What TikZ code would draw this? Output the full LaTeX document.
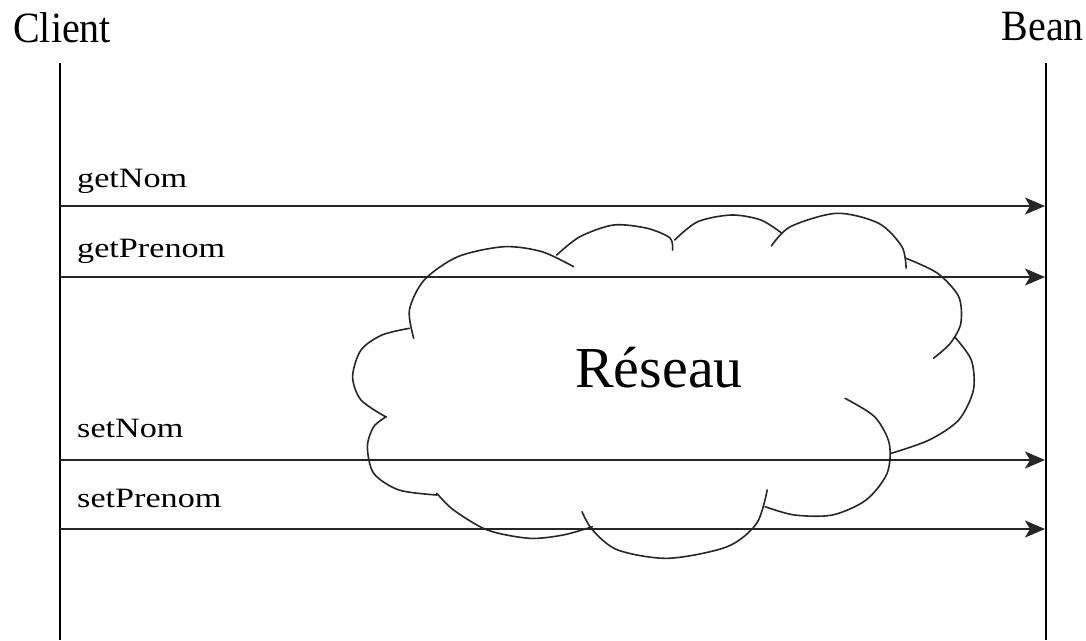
\documentclass[tikz,border=0pt]{standalone}
\usepackage{fontspec}
\setmainfont{Liberation Serif}
\usetikzlibrary{arrows.meta}
\tikzset{
  lifeline/.style={line width=2pt, black},
  msg/.style={line width=1.8pt, black!85, -{Stealth[length=20pt, width=17pt, inset=5pt]}},
  msglabel/.style={anchor=base west, inner sep=0pt, xscale=1.22, transform shape, font=\fontsize{28}{32}\selectfont},
  actor/.style={inner sep=0pt, yscale=1.08, transform shape, font=\fontsize{40}{46}\selectfont},
  cloudline/.style={line width=1.6pt, black!85, line cap=round},
}
\begin{document}
\begin{tikzpicture}[x=1pt,y=-1pt]
\useasboundingbox (0,0) rectangle (1086,640);
% actors
\node[actor, anchor=base west] (client) at (13,42) {Client};
\node[actor, anchor=base east] (bean) at (1084,40) {Bean};
% lifelines
\coordinate (ctop) at (60,63);
\coordinate (cbot) at (60,640);
\coordinate (btop) at (1046,63);
\coordinate (bbot) at (1046,640);
\draw[lifeline] (ctop) -- (cbot);
\draw[lifeline] (btop) -- (bbot);
% message end points
\coordinate (c1) at (60,206);  \coordinate (b1) at (1045,206);
\coordinate (c2) at (60,277);  \coordinate (b2) at (1045,277);
\coordinate (c3) at (60,460);  \coordinate (b3) at (1045,460);
\coordinate (c4) at (60,529);  \coordinate (b4) at (1045,529);
\draw[msg] (c1) -- (b1);
\draw[msg] (c2) -- (b2);
\draw[msg] (c3) -- (b3);
\draw[msg] (c4) -- (b4);
\node[msglabel] (l1) at (77,187) {getNom};
\node[msglabel] (l2) at (77,257) {getPrenom};
\node[msglabel] (l3) at (77,437) {setNom};
\node[msglabel] (l4) at (77,507) {setPrenom};
% cloud
\draw[cloudline] plot[smooth] coordinates {(385.5,416.7) (361,400) (352.6,376.7) (361,350) (382,335) (409.4,328.3)};
\draw[cloudline] plot[smooth] coordinates {(413.7,338.3) (409.4,310) (424.2,280) (457.8,256.7) (504.1,246.7) (542,251.7) (573.6,266.7)};
\draw[cloudline] plot[smooth] coordinates {(556.7,255) (579.9,236.7) (613.6,225) (647.2,228.3) (670,238) (672.5,250)};
\draw[cloudline] plot[smooth] coordinates {(674.6,240) (697.7,221.7) (731.4,215) (760.9,220) (781.9,233.3)};
\draw[cloudline] plot[smooth] coordinates {(771.4,246) (790.3,226.7) (836.6,213.3) (878.7,223.3) (901.9,246.7) (906.1,268.3)};
\draw[cloudline] plot[smooth] coordinates {(906.1,258.3) (937.6,273.3) (958.7,296.7) (960.8,323.3) (950.3,343.3) (933.4,358.3)};
\draw[cloudline] plot[smooth] coordinates {(954.5,336.7) (971.3,360) (973.4,390) (958.7,420) (929.2,440) (891.3,453.3)};
\draw[cloudline] plot[smooth] coordinates {(845,398.3) (874.5,416.7) (889.2,443.3) (887.1,473.3) (866.1,500) (832.4,515) (794.5,515) (765.1,506.7)};
\draw[cloudline] plot[smooth] coordinates {(767.2,490) (756.7,523.3) (727.2,546.7) (668.3,558.3) (617.8,550) (592.5,530) (582,511.7)};
\draw[cloudline] plot[smooth] coordinates {(592.5,526.7) (563.1,535) (529.4,538.3) (487.3,530) (453.6,510) (436.8,493.3)};
\draw[cloudline] plot[smooth] coordinates {(436.8,495) (398.9,490) (373.7,473.3) (367.4,446.7) (373.7,426.7) (386.3,416.7)};
\node[inner sep=0pt, anchor=base, font=\fontsize{58}{64}\selectfont] (net) at (659,387) {Réseau};
\end{tikzpicture}
\end{document}
